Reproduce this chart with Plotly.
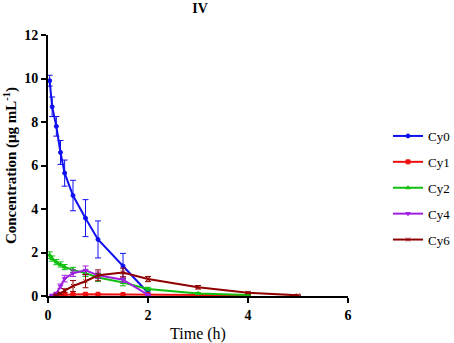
import plotly.graph_objects as go

names = ["Cy0", "Cy1", "Cy2", "Cy4", "Cy6"]
colors = ["#1010f0", "#f01010", "#10c010", "#a020e0", "#900000"]
symbols = ["circle", "square", "triangle-up", "triangle-down", "x-thin-open"]

t_cy0 = [0.033, 0.083, 0.167, 0.25, 0.333, 0.5, 0.75, 1, 1.5, 2]
v_cy0 = [9.9, 8.7, 7.8, 6.6, 5.65, 4.62, 3.58, 2.6, 1.38, 0.15]
e_cy0 = [0.25, 0.45, 0.45, 0.55, 0.6, 0.7, 0.85, 0.85, 0.58, 0.1]

t_cy1 = [0.167, 0.25, 0.333, 0.5, 0.75, 1, 1.5, 2, 3, 4]
v_cy1 = [0.05, 0.06, 0.07, 0.07, 0.08, 0.08, 0.07, 0.06, 0.05, 0.04]
e_cy1 = [0.02, 0.02, 0.02, 0.02, 0.02, 0.02, 0.02, 0.02, 0.02, 0.02]

t_cy2 = [0.033, 0.083, 0.167, 0.25, 0.333, 0.5, 0.75, 1, 1.5, 2, 3, 4]
v_cy2 = [1.88, 1.72, 1.56, 1.45, 1.33, 1.2, 1.05, 0.85, 0.62, 0.32, 0.12, 0.05]
e_cy2 = [0.15, 0.12, 0.12, 0.12, 0.12, 0.12, 0.15, 0.18, 0.15, 0.08, 0.04, 0.02]

t_cy4 = [0.083, 0.167, 0.25, 0.333, 0.5, 0.75, 1, 1.5, 2]
v_cy4 = [0.04, 0.12, 0.45, 0.8, 1.05, 1.18, 0.95, 0.75, 0.05]
e_cy4 = [0.02, 0.05, 0.1, 0.15, 0.15, 0.2, 0.15, 0.12, 0.03]

t_cy6 = [0.167, 0.25, 0.333, 0.5, 0.75, 1, 1.5, 2, 3, 4, 5]
v_cy6 = [0.05, 0.12, 0.25, 0.46, 0.68, 0.95, 1.08, 0.78, 0.4, 0.15, 0.03]
e_cy6 = [0.02, 0.05, 0.08, 0.25, 0.3, 0.25, 0.2, 0.12, 0.08, 0.04, 0.02]

series = [(t_cy0, v_cy0, e_cy0), (t_cy1, v_cy1, e_cy1), (t_cy2, v_cy2, e_cy2),
          (t_cy4, v_cy4, e_cy4), (t_cy6, v_cy6, e_cy6)]

x_ticks = [0, 2, 4, 6]
y_ticks = [0, 2, 4, 6, 8, 10, 12]

fig = go.Figure()
for name, col, sym, (t, v, e) in zip(names, colors, symbols, series):
    fig.add_trace(go.Scatter(
        x=t, y=v, name=name, mode="lines+markers", legendgroup=name,
        line=dict(color=col, width=2),
        marker=dict(color=col, symbol=sym, size=4, line=dict(color=col, width=1)),
        error_y=dict(type="data", array=e, visible=True, color=col, thickness=1, width=3),
        cliponaxis=False,
    ))

font = "Liberation Serif, Times New Roman, serif"
fig.update_layout(
    width=454, height=343,
    margin=dict(l=48, r=106, t=35, b=47, autoexpand=False),
    plot_bgcolor="white", paper_bgcolor="white",
    font=dict(family=font, size=13, color="black"),
    title=dict(text="<b>IV</b>", x=200/454, xanchor="center", y=1-8/343, yanchor="middle",
               font=dict(size=14)),
    showlegend=True,
    legend=dict(x=(388-48)/300, y=(296-121)/261, xanchor="left", yanchor="top",
                tracegroupgap=6, font=dict(size=13), bgcolor="rgba(0,0,0,0)"),
    xaxis=dict(range=[0, 6], tickvals=x_ticks, ticktext=[f"<b>{v}</b>" for v in x_ticks],
               showline=True, linecolor="black", linewidth=2, ticks="outside",
               ticklen=5, tickwidth=2, tickcolor="black", showgrid=False, zeroline=False,
               automargin=False,
               title=dict(text="Time (h)", standoff=6), tickfont=dict(size=14)),
    yaxis=dict(range=[0, 12], tickvals=y_ticks, ticktext=[f"<b>{v}</b>" for v in y_ticks],
               showline=True, linecolor="black", linewidth=2, ticks="outside",
               ticklen=5, tickwidth=2, tickcolor="black", showgrid=False, zeroline=False,
               automargin=False,
               title=dict(text="<b>Concentration (μg mL<sup>-1</sup>)</b>", standoff=4,
                          font=dict(size=15)),
               tickfont=dict(size=14)),
)

fig.write_html("out.html", config={"displayModeBar": False},
               post_script="document.body.style.margin='0px';")
